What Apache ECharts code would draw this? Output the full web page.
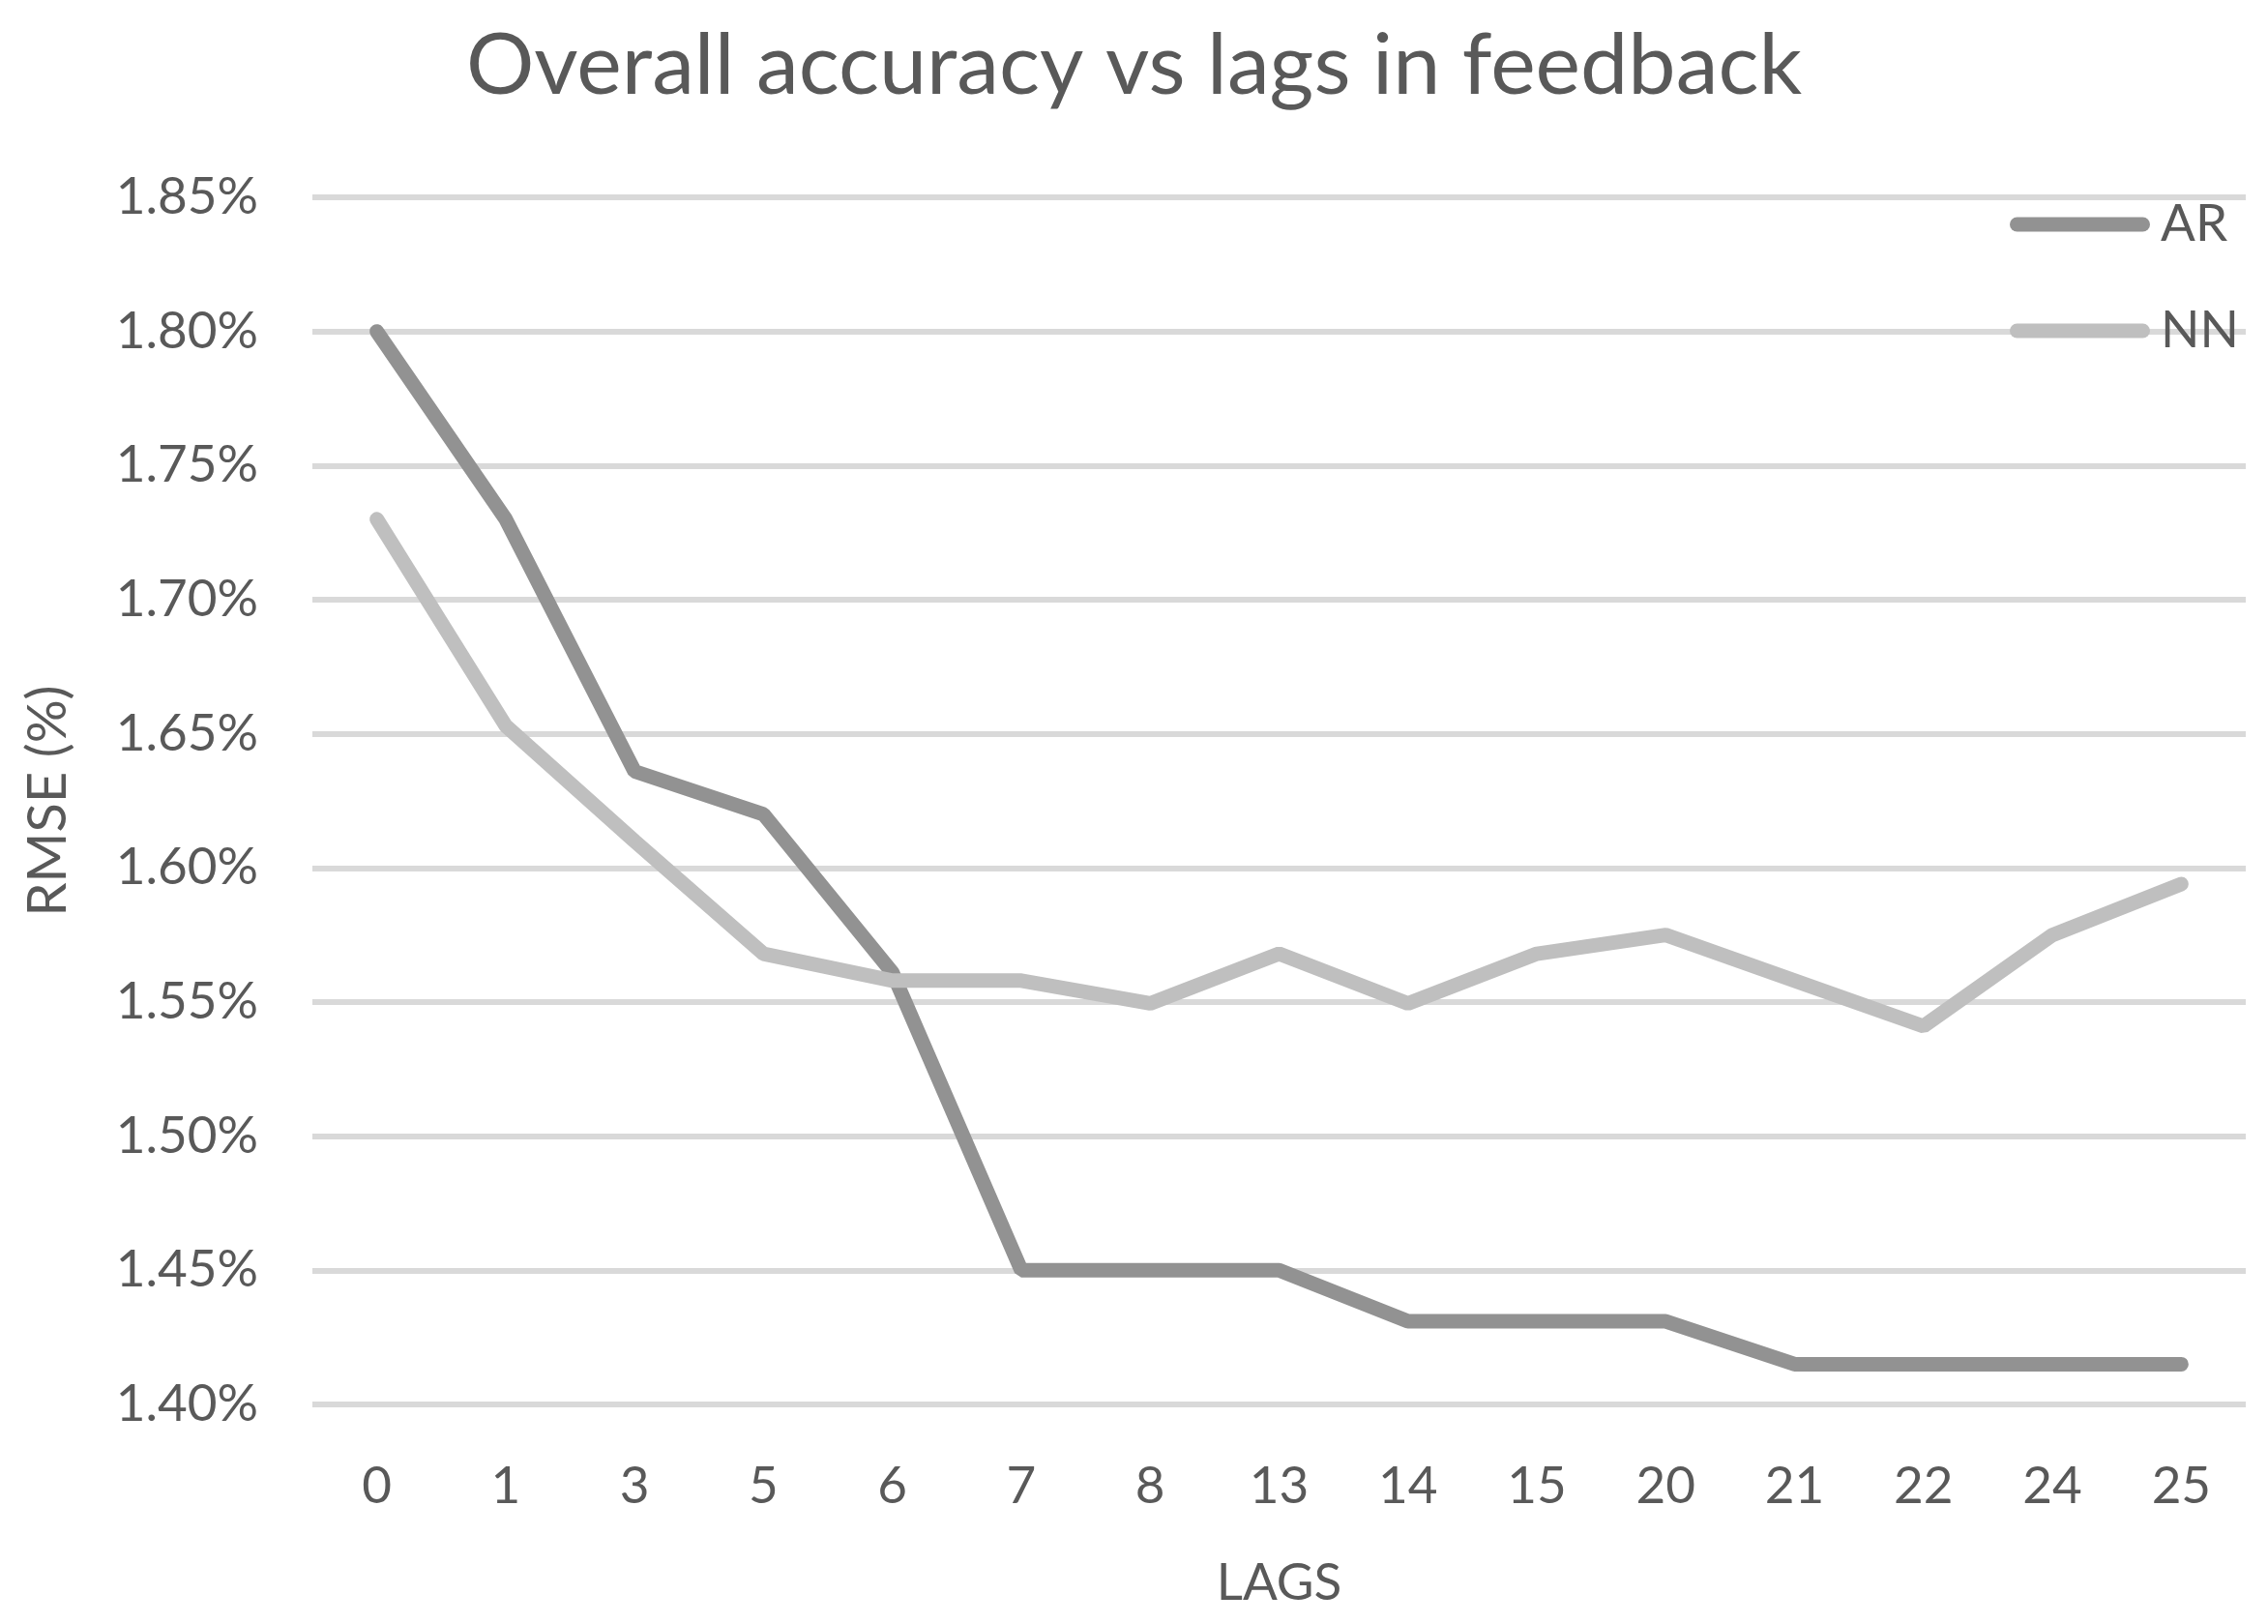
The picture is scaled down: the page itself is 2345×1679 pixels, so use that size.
<!DOCTYPE html>
<html>
<head>
<meta charset="utf-8">
<script src="https://cdn.jsdelivr.net/npm/echarts@6/dist/echarts.min.js"></script>
<style>
  html, body { margin: 0; padding: 0; background: #fff; }
  #chart { width: 2345px; height: 1679px; }
</style>
</head>
<body>
<div id="chart"></div>
<script>
// lags on the x axis
var lags = ['0', '1', '3', '5', '6', '7', '8', '13', '14', '15', '20', '21', '22', '24', '25']

// RMSE in %
var arValues = [1.80, 1.73, 1.636, 1.62, 1.561, 1.45, 1.45, 1.45, 1.431, 1.431, 1.431, 1.415, 1.415, 1.415, 1.415]
var nnValues = [1.73, 1.653, 1.61, 1.568, 1.558, 1.558, 1.5495, 1.568, 1.5495, 1.568, 1.575, 1.558, 1.541, 1.575, 1.594]

var textColor = '#595959'
var font = 'Lato'

var chart = echarts.init(document.getElementById('chart'))

var option = {}
option.animation = false
option.backgroundColor = '#fff'

option.title = {
	text: 'Overall accuracy vs lags in feedback',
	left: 'center',
	top: 20,
	textStyle: { fontFamily: font, fontSize: 88, fontWeight: 'normal', color: textColor }
}

// 图例：粗线条，圆头
option.legend = {
	orient: 'vertical',
	right: 25,
	top: 197,
	itemWidth: 130,
	itemHeight: 15,
	itemGap: 50,
	data: ['AR', 'NN'],
	itemStyle: { opacity: 0 },
	lineStyle: { width: 15, cap: 'round' },
	formatter: function(name) { return ' ' + name },
	textStyle: { fontFamily: font, fontSize: 53, color: textColor, lineHeight: 60 }
}

option.grid = {
	left: 323,
	right: 23,
	top: 204,
	bottom: 227
}

option.xAxis = {
	type: 'category',
	data: lags,
	boundaryGap: true,
	name: 'LAGS',
	nameLocation: 'middle',
	nameGap: 158,
	nameTextStyle: { fontFamily: font, fontSize: 53, color: textColor },
	axisLine: { show: false },
	axisTick: { show: false },
	axisLabel: { fontFamily: font, fontSize: 53, color: textColor, margin: 58 }
}

option.yAxis = {
	type: 'value',
	min: 1.40,
	max: 1.85,
	interval: 0.05,
	name: 'RMSE (%)',
	nameLocation: 'middle',
	nameRotate: 90,
	nameGap: 245,
	nameTextStyle: { fontFamily: font, fontSize: 56, color: textColor },
	axisLine: { show: false },
	axisTick: { show: false },
	axisLabel: {
		fontFamily: font, fontSize: 53, color: textColor, margin: 56,
		formatter: function(v) { return v.toFixed(2) + '%' }
	},
	splitLine: { lineStyle: { color: '#d9d9d9', width: 6 } }
}

option.series = [{
	name: 'AR',
	type: 'line',
	data: arValues,
	symbol: 'none',
	color: '#929292',
	lineStyle: { width: 15, color: '#929292', cap: 'round' }
}, {
	name: 'NN',
	type: 'line',
	data: nnValues,
	symbol: 'none',
	color: '#bfbfbf',
	lineStyle: { width: 15, color: '#bfbfbf', cap: 'round' }
}]

chart.setOption(option)
</script>
</body>
</html>
